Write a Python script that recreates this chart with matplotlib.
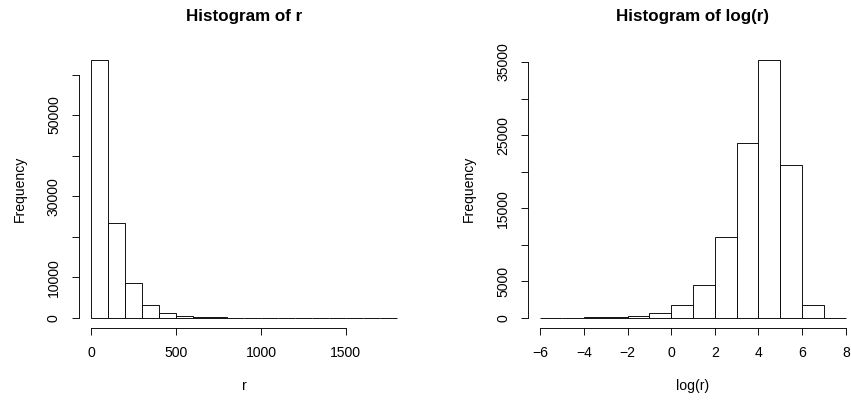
import numpy as np
import matplotlib
matplotlib.use("Agg")
from matplotlib import pyplot as plt

# histogram of r : bins of width 100 from 0 to 1800
r_breaks = np.arange(0, 1801, 100)
r_counts = [63530, 23280, 8560, 3040, 1160, 480, 200, 90, 50, 30,
            20, 10, 5, 5, 3, 2, 1, 1]
r_xticks = [0, 500, 1000, 1500]
r_yticks = [0, 10000, 20000, 30000, 40000, 50000, 60000]
r_ylabels = ["0", "10000", "", "30000", "", "50000", ""]

# histogram of log(r) : bins of width 1 from -6 to 8
lr_breaks = np.arange(-6, 9, 1)
lr_counts = [5, 10, 30, 140, 270, 630, 1690, 4520, 11100, 23920,
             35250, 20860, 1690, 20]
lr_xticks = [-6, -4, -2, 0, 2, 4, 6, 8]
lr_yticks = [0, 5000, 10000, 15000, 20000, 25000, 30000, 35000]
lr_ylabels = ["0", "5000", "", "15000", "", "25000", "", "35000"]

W, H = 851, 402
DPI = 72
plt.rcParams['font.family'] = ['Liberation Sans', 'DejaVu Sans']
fig = plt.figure(figsize=(W / DPI, H / DPI), dpi=DPI)


def px(x0, y0, x1, y1):
    # pixel box (top-left origin) -> figure fraction
    return [x0 / W, 1 - y1 / H, (x1 - x0) / W, (y1 - y0) / H]


def r_hist(ax, breaks, counts, xticks, yticks, ylabels, xlab, title):
    breaks = np.asarray(breaks, dtype=float)
    ax.bar(breaks[:-1], counts, width=np.diff(breaks), align='edge',
           facecolor='white', edgecolor='black', linewidth=0.9)
    lo, hi = breaks[0], breaks[-1]
    ext = (hi - lo) * 0.04
    ax.set_xlim(lo - ext, hi + ext)
    top = max(counts)
    ax.set_ylim(-top * 0.04, top * 1.04)
    for s in ['top', 'right']:
        ax.spines[s].set_visible(False)
    ax.spines['left'].set_bounds(yticks[0], yticks[-1])
    ax.spines['bottom'].set_bounds(xticks[0], xticks[-1])
    for s in ['left', 'bottom']:
        ax.spines[s].set_linewidth(0.9)
    ax.set_xticks(xticks)
    ax.set_yticks(yticks)
    ax.set_yticklabels(ylabels, rotation=90, va='center')
    ax.tick_params(direction='out', length=7, width=0.9, labelsize=14, pad=11)
    ax.set_xlabel(xlab, fontsize=14, labelpad=19)
    ax.set_ylabel("Frequency", fontsize=14, labelpad=20)
    # title centred over the plot region, like R's main=
    box = ax.get_position()
    fig.text((box.x0 + box.x1) / 2, 1 - 16 / H, title, ha='center',
             va='center', fontsize=17, fontweight='bold')


ax1 = fig.add_axes(px(79, 50, 409, 328))
r_hist(ax1, r_breaks, r_counts, r_xticks, r_yticks, r_ylabels, "r",
       "Histogram of r")

ax2 = fig.add_axes(px(528, 50, 858, 328))
r_hist(ax2, lr_breaks, lr_counts, lr_xticks, lr_yticks, lr_ylabels, "log(r)",
       "Histogram of log(r)")

fig.savefig("out.png", dpi=DPI)
